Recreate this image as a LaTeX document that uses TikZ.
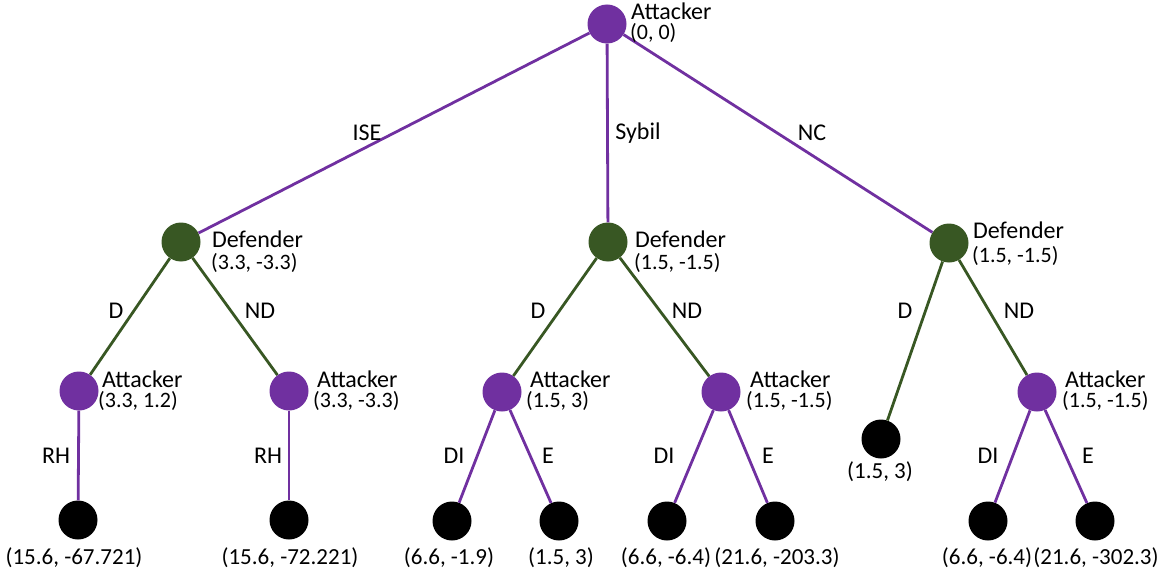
\documentclass[tikz,border=0pt]{standalone}
\usepackage{fontspec}
\setmainfont{Carlito}
\definecolor{attcol}{HTML}{7030A0}
\definecolor{defcol}{HTML}{385723}
\newcommand\twolab[4]{\vtop{\baselineskip=#3pt\lineskiplimit=-100pt\lineskip=0pt
  \hbox{\fontsize{24}{26}\selectfont #1}\hbox{\kern#4pt\fontsize{22}{24}\selectfont #2}}}
\begin{document}
\begin{tikzpicture}[x=1pt,y=-1pt,
  attnode/.style={circle,fill=attcol,minimum size=39pt,inner sep=0pt},
  defnode/.style={circle,fill=defcol,minimum size=39pt,inner sep=0pt},
  leafnode/.style={circle,fill=black,minimum size=39pt,inner sep=0pt},
  attedge/.style={draw=attcol,line width=2.8pt},
  defedge/.style={draw=defcol,line width=2.8pt},
  nodelab/.style={anchor=base west,inner sep=0pt},
  leafpay/.style={anchor=base,inner sep=0pt,font=\fontsize{23}{25}\selectfont},
  elabel/.style={inner sep=0pt,font=\fontsize{24}{26}\selectfont}]
\useasboundingbox (0,0) rectangle (1164,575);

% nodes
\node[attnode] (root) at (607,24) {};
\node[defnode] (dL) at (181,242) {};
\node[defnode] (dM) at (608,242) {};
\node[defnode] (dR) at (949,243) {};
\node[attnode] (aL1) at (79,391) {};
\node[attnode] (aL2) at (289,391) {};
\node[attnode] (aM1) at (502,392) {};
\node[attnode] (aM2) at (721,392) {};
\node[attnode] (aR) at (1037,392) {};
\node[leafnode] (l1) at (78,520) {};
\node[leafnode] (l2) at (289,520) {};
\node[leafnode] (l3) at (452,521) {};
\node[leafnode] (l4) at (559,521) {};
\node[leafnode] (l5) at (667,521) {};
\node[leafnode] (l6) at (775,521) {};
\node[leafnode] (l7) at (881,439) {};
\node[leafnode] (l8) at (988,521) {};
\node[leafnode] (l9) at (1095,521) {};

% edges
\path[attedge] (root) -- (dL);
\path[attedge] (root) -- (dM);
\path[attedge] (root) -- (dR);
\path[defedge] (dL) -- (aL1);
\path[defedge] (dL) -- (aL2);
\path[defedge] (dM) -- (aM1);
\path[defedge] (dM) -- (aM2);
\path[defedge] (dR) -- (l7);
\path[defedge] (dR) -- (aR);
\path[attedge] (aL1) -- (l1);
\path[attedge] (aL2) -- (l2);
\path[attedge] (aM1) -- (l3);
\path[attedge] (aM1) -- (l4);
\path[attedge] (aM2) -- (l5);
\path[attedge] (aM2) -- (l6);
\path[attedge] (aR) -- (l8);
\path[attedge] (aR) -- (l9);

% edge labels
\node[elabel] (eISE) at (367,133) {ISE};
\node[elabel] (eSyb) at (638,133) {Sybil};
\node[elabel] (eNC) at (812,133) {NC};
\node[elabel] (eD1) at (116,311) {D};
\node[elabel] (eND1) at (260,311) {ND};
\node[elabel] (eD2) at (538,311) {D};
\node[elabel] (eND2) at (687,311) {ND};
\node[elabel] (eD3) at (905,311) {D};
\node[elabel] (eND3) at (1019,311) {ND};
\node[elabel] (eRH1) at (56,456) {RH};
\node[elabel] (eRH2) at (268,456) {RH};
\node[elabel] (eDI1) at (454,456) {DI};
\node[elabel] (eE1) at (548,456) {E};
\node[elabel] (eDI2) at (664,456) {DI};
\node[elabel] (eE2) at (768,456) {E};
\node[elabel] (eDI3) at (988,456) {DI};
\node[elabel] (eE3) at (1088,456) {E};

% node labels
\node[nodelab] (rootL) at (631,20) {\twolab{Attacker}{(0, 0)}{20}{-1}};
\node[nodelab] (dLL) at (212,247) {\twolab{Defender}{(3.3, -3.3)}{22}{-1}};
\node[nodelab] (dML) at (635,247) {\twolab{Defender}{(1.5, -1.5)}{22}{-1}};
\node[nodelab] (dRL) at (973,238) {\twolab{Defender}{(1.5, -1.5)}{24}{-1}};
\node[nodelab] (aL1L) at (102,387) {\twolab{Attacker}{(3.3, 1.2)}{20}{-4}};
\node[nodelab] (aL2L) at (317,387) {\twolab{Attacker}{(3.3, -3.3)}{20}{-4}};
\node[nodelab] (aM1L) at (530,387) {\twolab{Attacker}{(1.5, 3)}{20}{-4}};
\node[nodelab] (aM2L) at (750,387) {\twolab{Attacker}{(1.5, -1.5)}{20}{-4}};
\node[nodelab] (aRL) at (1065,387) {\twolab{Attacker}{(1.5, -1.5)}{20}{-3}};

% leaf payoffs
\node[leafpay] (p1) at (74,564) {(15.6, -67.721)};
\node[leafpay] (p2) at (290,564) {(15.6, -72.221)};
\node[leafpay] (p3) at (449,564) {(6.6, -1.9)};
\node[leafpay] (p4) at (561,564) {(1.5, 3)};
\node[leafpay] (p5) at (666,564) {(6.6, -6.4)};
\node[leafpay] (p6) at (777,564) {(21.6, -203.3)};
\node[leafpay] (p7) at (880,478) {(1.5, 3)};
\node[leafpay] (p8) at (987,564) {(6.6, -6.4)};
\node[leafpay] (p9) at (1096,564) {(21.6, -302.3)};
\end{tikzpicture}
\end{document}
